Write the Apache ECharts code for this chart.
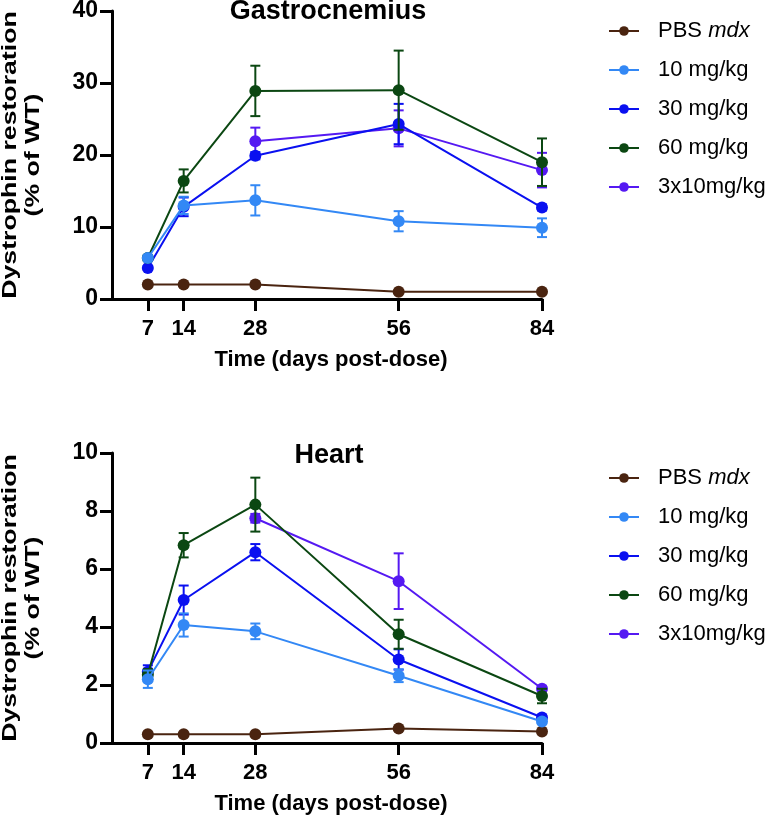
<!DOCTYPE html>
<html>
<head>
<meta charset="utf-8">
<script src="https://cdn.jsdelivr.net/npm/echarts@6/dist/echarts.min.js"></script>
<style>html,body{margin:0;padding:0;background:#fff;}#c{width:773px;height:816px;}</style>
</head>
<body>
<div id="c"></div>
<script>
// ---- data ----
var days = [7, 14, 28, 56, 84];
var dayTicks = [7, 14, 28, 56, 84];
var seriesNames = ['PBS mdx', '10 mg/kg', '30 mg/kg', '60 mg/kg', '3x10mg/kg'];
var seriesColors = ['#4a2410', '#3388f5', '#0a10f0', '#0b4712', '#5519f2'];
var yTitle = 'Dystrophin restoration\n(% of WT)';
var xTitle = 'Time (days post-dose)';
var panelTitles = ['Gastrocnemius', 'Heart'];

// Gastrocnemius
var gasPBS = [2.0, 2.0, 2.0, 1.0, 1.0];
var gasPBSErr = [0, 0, 0, 0, 0];
var gas10 = [5.7, 13.0, 13.7, 10.8, 9.9];
var gas10Err = [0.4, 1.2, 2.1, 1.4, 1.3];
var gas30 = [4.3, 12.8, 19.9, 24.3, 12.7];
var gas30Err = [0.3, 1.3, 0.5, 2.8, 0.4];
var gas60 = [5.7, 16.4, 28.9, 29.0, 19.0];
var gas60Err = [0.4, 1.6, 3.5, 5.5, 3.3];
var gas3x10 = [null, null, 21.9, 23.7, 17.9];
var gas3x10Err = [null, null, 1.9, 2.5, 2.4];

// Heart
var hrtPBS = [0.3, 0.3, 0.3, 0.5, 0.4];
var hrtPBSErr = [0, 0, 0, 0, 0];
var hrt10 = [2.2, 4.07, 3.85, 2.32, 0.74];
var hrt10Err = [0.3, 0.4, 0.27, 0.22, 0.08];
var hrt30 = [2.46, 4.93, 6.58, 2.88, 0.88];
var hrt30Err = [0.22, 0.5, 0.28, 0.35, 0.08];
var hrt60 = [2.35, 6.82, 8.22, 3.75, 1.62];
var hrt60Err = [0.2, 0.42, 0.93, 0.5, 0.25];
var hrt3x10 = [null, null, 7.75, 5.58, 1.87];
var hrt3x10Err = [null, null, 0.15, 0.96, 0.08];

var FONT = 'Liberation Sans';

var gasSets = [[gasPBS, gasPBSErr], [gas10, gas10Err], [gas30, gas30Err], [gas60, gas60Err], [gas3x10, gas3x10Err]];
var hrtSets = [[hrtPBS, hrtPBSErr], [hrt10, hrt10Err], [hrt30, hrt30Err], [hrt60, hrt60Err], [hrt3x10, hrt3x10Err]];
// drawing order (z): PBS, 3x10, 30, 60, 10
var zOrder = [1, 5, 3, 4, 2];

function lineData(vals) {
  var out = [];
  for (var i = 0; i < days.length; i++) if (vals[i] != null) out.push([days[i], vals[i]]);
  return out;
}
function errData(vals, errs) {
  var out = [];
  for (var i = 0; i < days.length; i++) if (vals[i] != null && errs[i]) out.push([days[i], vals[i], errs[i]]);
  return out;
}
function errRender(color) {
  return function (params, api) {
    var x = api.value(0), y = api.value(1), e = api.value(2);
    var top = api.coord([x, y + e]);
    var bot = api.coord([x, y - e]);
    var w = 5;
    var st = { stroke: color, lineWidth: 2 };
    return {
      type: 'group',
      children: [
        { type: 'line', shape: { x1: top[0], y1: top[1], x2: bot[0], y2: bot[1] }, style: st },
        { type: 'line', shape: { x1: top[0] - w, y1: top[1], x2: top[0] + w, y2: top[1] }, style: st },
        { type: 'line', shape: { x1: bot[0] - w, y1: bot[1], x2: bot[0] + w, y2: bot[1] }, style: st }
      ]
    };
  };
}

var series = [];
[gasSets, hrtSets].forEach(function (sets, g) {
  sets.forEach(function (s, k) {
    var z = 2 + zOrder[k] * 2;
    series.push({
      type: 'custom', xAxisIndex: g, yAxisIndex: g, z: z,
      renderItem: errRender(seriesColors[k]),
      data: errData(s[0], s[1]), silent: true
    });
    series.push({
      name: seriesNames[k], type: 'line', xAxisIndex: g, yAxisIndex: g, z: z + 1,
      data: lineData(s[0]), symbol: 'circle', symbolSize: 12,
      itemStyle: { color: seriesColors[k] },
      lineStyle: { color: seriesColors[k], width: 2 },
      emphasis: { disabled: true }
    });
  });
});

function xAxis(g) {
  return {
    type: 'value', gridIndex: g, min: 0, max: 84,
    name: xTitle, nameLocation: 'middle', nameGap: 50,
    nameTextStyle: { fontFamily: FONT, fontWeight: 'bold', fontSize: 22, color: '#000', padding: [0, 0, 0, 8] },
    axisLine: { lineStyle: { color: '#000', width: 3 } },
    axisTick: { show: true, length: 12, lineStyle: { color: '#000', width: 3 }, customValues: dayTicks },
    axisLabel: { customValues: dayTicks, margin: 19, fontFamily: FONT, fontWeight: 'bold', fontSize: 22, color: '#000' },
    splitLine: { show: false }
  };
}
function yAxis(g, max, interval) {
  return {
    type: 'value', gridIndex: g, min: 0, max: max, interval: interval,
    axisLine: { show: true, lineStyle: { color: '#000', width: 3 } },
    axisTick: { show: true, length: 12, lineStyle: { color: '#000', width: 3 } },
    axisLabel: { margin: 14, fontFamily: FONT, fontWeight: 'bold', fontSize: 23, color: '#000' },
    splitLine: { show: false }
  };
}
function legend(top) {
  return {
    orient: 'vertical', left: 608, top: top, itemGap: 17, padding: 0,
    itemWidth: 30, itemHeight: 12,
    data: seriesNames,
    formatter: function (n) { return n === 'PBS mdx' ? 'PBS {i|mdx}' : n; },
    textStyle: { fontFamily: FONT, fontSize: 22, lineHeight: 20, color: '#000', padding: [0, 0, 0, 14],
      rich: { i: { fontFamily: FONT, fontSize: 22, lineHeight: 20, fontStyle: 'italic', color: '#000' } } }
  };
}
function yName(cy) {
  return {
    type: 'text', x: 22, y: cy, rotation: Math.PI / 2, scaleX: 1.27, scaleY: 1,
    style: { text: yTitle, font: 'bold 21px "Liberation Sans"', align: 'center', verticalAlign: 'middle',
      lineHeight: 23, fill: '#000' }
  };
}

var option = {
  backgroundColor: '#fff',
  animation: false,
  title: [
    { text: panelTitles[0], left: 328, top: -2, textAlign: 'center', padding: 0,
      textStyle: { fontFamily: FONT, fontWeight: 'bold', fontSize: 27, color: '#000' } },
    { text: panelTitles[1], left: 329, top: 442, textAlign: 'center', padding: 0,
      textStyle: { fontFamily: FONT, fontWeight: 'bold', fontSize: 27, color: '#000' } }
  ],
  legend: [legend(20), legend(467)],
  grid: [
    { left: 112, right: 231, top: 11, bottom: 517, containLabel: false, outerBoundsMode: 'none' },
    { left: 112, right: 231, top: 453, bottom: 73, containLabel: false, outerBoundsMode: 'none' }
  ],
  xAxis: [xAxis(0), xAxis(1)],
  yAxis: [yAxis(0, 40, 10), yAxis(1, 10, 2)],
  graphic: [yName(155), yName(598)],
  series: series
};
var chart = echarts.init(document.getElementById('c'), null, { renderer: 'canvas' });
chart.setOption(option);
</script>
</body>
</html>
